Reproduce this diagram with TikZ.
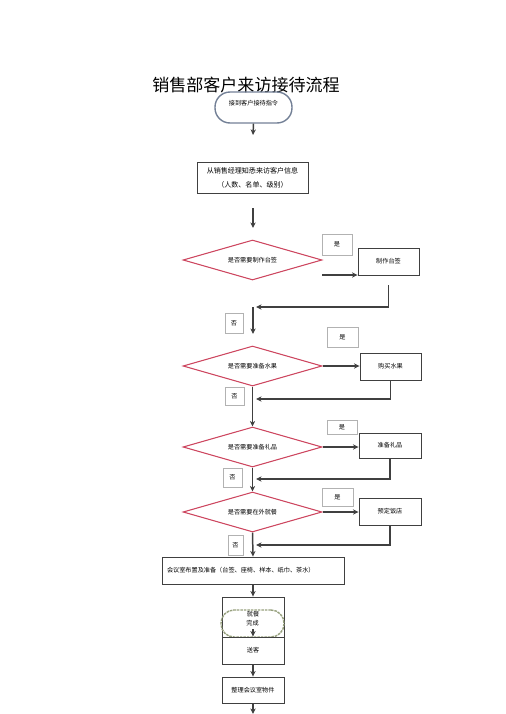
\documentclass[tikz,border=0pt]{standalone}
\usepackage{fontspec}
\newfontfamily\cjk{Noto Sans CJK SC}
\usetikzlibrary{arrows.meta,shapes.geometric}
\definecolor{askred}{RGB}{205,70,95}
\definecolor{capgray}{RGB}{115,128,150}
\definecolor{donegreen}{RGB}{150,160,125}

\begin{document}
\begin{tikzpicture}[x=0.02cm,y=-0.02cm,>={Stealth[length=3.2pt,width=3pt]},
  font=\cjk\fontsize{3.5}{6}\selectfont,
  flow/.style={draw=black!75,line width=.85pt},
  box/.style={draw=black!75,line width=.5pt,inner sep=0pt},
  tag/.style={draw=black!30,line width=.4pt,inner sep=0pt},
  ask/.style={diamond,aspect=3.5,draw=askred,line width=.6pt,inner sep=0pt,
    minimum width=2.78cm,minimum height=.8cm}]
  \useasboundingbox (0,0) rectangle (505,714);
  \node (title) at (246,85) {\fontsize{9.7}{10}\selectfont 销售部客户来访接待流程};
  \node[draw=capgray,line width=.8pt,rounded corners=.3cm,minimum width=1.54cm,
    minimum height=.62cm,inner sep=0pt,text depth=.2cm] (start) at (253.5,107.5) {接到客户接待指令};
  \node[box,align=center,font=\cjk\fontsize{4}{8}\selectfont,minimum width=2.22cm,
    minimum height=.62cm] (info) at (252.5,177.5) {从销售经理知悉来访客户信息\\（人数、名单、级别）};
  % decisions
  \node[ask] (d1) at (252.5,260) {是否需要制作台签};
  \node[ask] (d2) at (252.5,366) {是否需要准备水果};
  \node[ask] (d3) at (252.5,447) {是否需要准备礼品};
  \node[ask] (d4) at (252.5,512) {是否需要在外就餐};
  % yes branches
  \node[box,minimum width=1.22cm,minimum height=.54cm] (p1) at (388.5,261.5) {制作台签};
  \node[box,minimum width=1.22cm,minimum height=.54cm] (p2) at (390.5,366.5) {购买水果};
  \node[box,minimum width=1.24cm,minimum height=.5cm] (p3) at (390,445.5) {准备礼品};
  \node[box,minimum width=1.24cm,minimum height=.54cm] (p4) at (390,511.5) {预定饭店};
  \node[tag,minimum width=.6cm,minimum height=.42cm] (y1) at (337,244.5) {是};
  \node[tag,minimum width=.62cm,minimum height=.4cm] (y2) at (342.5,337) {是};
  \node[tag,minimum width=.6cm,minimum height=.28cm] (y3) at (342,427) {是};
  \node[tag,minimum width=.62cm,minimum height=.36cm] (y4) at (337.5,497) {是};
  \node[tag,minimum width=.36cm,minimum height=.4cm] (n1) at (234,323) {否};
  \node[tag,minimum width=.38cm,minimum height=.36cm] (n2) at (234.5,396) {否};
  \node[tag,minimum width=.38cm,minimum height=.38cm] (n3) at (232.5,477.5) {否};
  \node[tag,minimum width=.3cm,minimum height=.4cm] (n4) at (235.5,545) {否};
  % closing steps
  \node[box,align=left,text width=3.44cm,inner xsep=.1cm,minimum height=.54cm] (prep)
    at (253,570.5) {会议室布置及准备（台签、座椅、样本、纸巾、茶水）};
  \node[box,minimum width=1.24cm,minimum height=.8cm,
    label={[anchor=north,yshift=-4.6pt]north:就餐}] (meal) at (253,617) {};
  \node[draw=donegreen,line width=.8pt,dash pattern=on 1.5pt off .5pt,
    rounded corners=.26cm,minimum width=1.26cm,minimum height=.54cm,inner sep=0pt]
    (done) at (252.5,623.5) {完成};
  \node[box,minimum width=1.24cm,minimum height=.54cm] (send) at (253,650.5) {送客};
  \node[box,minimum width=1.24cm,minimum height=.52cm] (tidy) at (253,690) {整理会议室物件};
  % junctions
  \coordinate (c0) at (253,135);
  \coordinate (c1) at (253,208);
  \coordinate (c2) at (253,228);
  \coordinate (a1) at (322,275);
  \coordinate (j1) at (256,307);
  \coordinate (j2) at (256,399);
  \coordinate (j3) at (256,479);
  \coordinate (j4) at (256,545);
  \coordinate (k1) at (253,334);
  \coordinate (c7) at (253,629);
  \coordinate (c8) at (253,714);
  % connectors
  \draw[flow,->] (start.south) -- (c0);
  \draw[flow,->] (c1) -- (c2);
  \draw[flow,->] (a1) -- (a1 -| p1.west);
  \draw[flow,->] ([yshift=-.2cm]p1.south) |- (j1);
  \draw[flow,->] (j1 -| k1) -- (k1);
  \draw[flow,->] (d2.east) -- (d2.east -| p2.west);
  \draw[flow,->] (p2.south) |- (j2);
  \draw[flow,->] (d2.south) -- (d3.north);
  \draw[flow,->] (d3.east) -- (d3.east -| p3.west);
  \draw[flow,->] (p3.south) |- (j3);
  \draw[flow,->] (d3.south) -- (d4.north);
  \draw[flow,->] (d4.east) -- (d4.east -| p4.west);
  \draw[flow,->] (p4.south) |- (j4);
  \draw[flow,->] (d4.south) -- (prep.north);
  \draw[flow,->] (prep.south) -- (meal.north);
  \draw[flow,->] (c7) -- (send.north);
  \draw[flow,->] (send.south) -- (tidy.north);
  \draw[flow,->] (tidy.south) -- (c8);
\end{tikzpicture}
\end{document}
